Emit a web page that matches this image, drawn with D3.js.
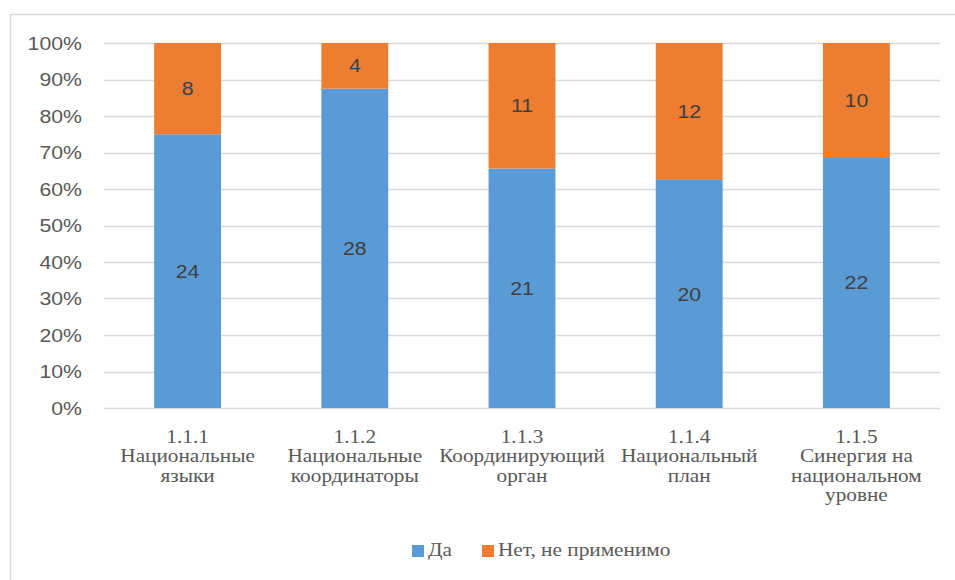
<!DOCTYPE html>
<html><head><meta charset="utf-8">
<script src="https://cdn.jsdelivr.net/npm/d3@7"></script>
<style>body{margin:0;background:#fff;}svg{display:block;}</style>
</head><body>
<svg id="c" width="955" height="580"></svg>
<script>
const categories = [
  ["1.1.1", "Национальные", "языки"],
  ["1.1.2", "Национальные", "координаторы"],
  ["1.1.3", "Координирующий", "орган"],
  ["1.1.4", "Национальный", "план"],
  ["1.1.5", "Синергия на", "национальном", "уровне"]
];
const yesValues = [24, 28, 21, 20, 22];
const noValues = [8, 4, 11, 12, 10];
const seriesNames = ["Да", "Нет, не применимо"];
const seriesColors = ["#5B9BD5", "#ED7D31"];
const yTicks = [0, 0.1, 0.2, 0.3, 0.4, 0.5, 0.6, 0.7, 0.8, 0.9, 1];

const SX = 1.12; // horizontal stretch of the reference text
const svg = d3.select("#c");
svg.append("rect").attr("x", 10.5).attr("y", 14.5).attr("width", 980).attr("height", 600)
  .attr("fill", "none").attr("stroke", "#d9d9d9").attr("stroke-width", 1.5);

const pLeft = 104, pRight = 940, pTop = 43, pBottom = 408;
const x = d3.scaleBand().domain(d3.range(categories.length)).range([pLeft, pRight]).paddingInner(0.6).paddingOuter(0.3);
const y = d3.scaleLinear().domain([0, 1]).range([pBottom, pTop]);

const sansFont = "'Liberation Sans', Arial, sans-serif";
const serifFont = "'Liberation Serif', 'Times New Roman', 'DejaVu Serif', serif";
const tr = (px, py) => `translate(${px},${py}) scale(${SX},1)`;

// gridlines
svg.append("g").selectAll("line").data(yTicks).join("line")
  .attr("x1", pLeft).attr("x2", pRight)
  .attr("y1", d => Math.round(y(d)) + 0.5).attr("y2", d => Math.round(y(d)) + 0.5)
  .attr("stroke", "#d9d9d9").attr("stroke-width", 1.5);

// y labels
svg.append("g").selectAll("text").data(yTicks).join("text")
  .attr("transform", d => tr(82, y(d))).attr("dy", "0.35em")
  .attr("text-anchor", "end").attr("font-family", sansFont).attr("font-size", 19)
  .attr("fill", "#595959").text(d => d3.format(".0%")(d));

// stacks
const rows = categories.map((c, i) => ({i, yes: yesValues[i], no: noValues[i]}));
const stack = d3.stack().keys(["yes", "no"]).offset(d3.stackOffsetExpand);
const series = stack(rows);

const g = svg.append("g");
series.forEach((s, si) => {
  g.append("g").selectAll("rect").data(s).join("rect")
    .attr("x", d => x(d.data.i)).attr("width", x.bandwidth())
    .attr("y", d => y(d[1])).attr("height", d => y(d[0]) - y(d[1]))
    .attr("fill", seriesColors[si]);
  g.append("g").selectAll("text").data(s).join("text")
    .attr("transform", d => tr(x(d.data.i) + x.bandwidth() / 2, y((d[0] + d[1]) / 2)))
    .attr("dy", "0.35em")
    .attr("text-anchor", "middle").attr("font-family", sansFont).attr("font-size", 19)
    .attr("fill", "#404040").text(d => d.data[s.key]);
});

// category labels
const cl = svg.append("g").selectAll("text").data(categories).join("text")
  .attr("transform", (d, i) => tr(x(i) + x.bandwidth() / 2, 443))
  .attr("text-anchor", "middle").attr("font-family", serifFont).attr("font-size", 19)
  .attr("fill", "#595959");
cl.each(function(lines) {
  d3.select(this).selectAll("tspan").data(lines).join("tspan")
    .attr("x", 0)
    .attr("y", (d, j) => j * 19.5)
    .text(d => d);
});

// legend
const legend = svg.append("g");
const legendItems = [{x: 412, t: seriesNames[0], c: seriesColors[0]}, {x: 482, t: seriesNames[1], c: seriesColors[1]}];
legendItems.forEach(it => {
  legend.append("rect").attr("x", it.x).attr("y", 545).attr("width", 12).attr("height", 12).attr("fill", it.c);
  legend.append("text").attr("transform", tr(it.x + 16, 556)).attr("font-family", serifFont).attr("font-size", 19)
    .attr("fill", "#595959").text(it.t);
});
</script>
</body></html>
